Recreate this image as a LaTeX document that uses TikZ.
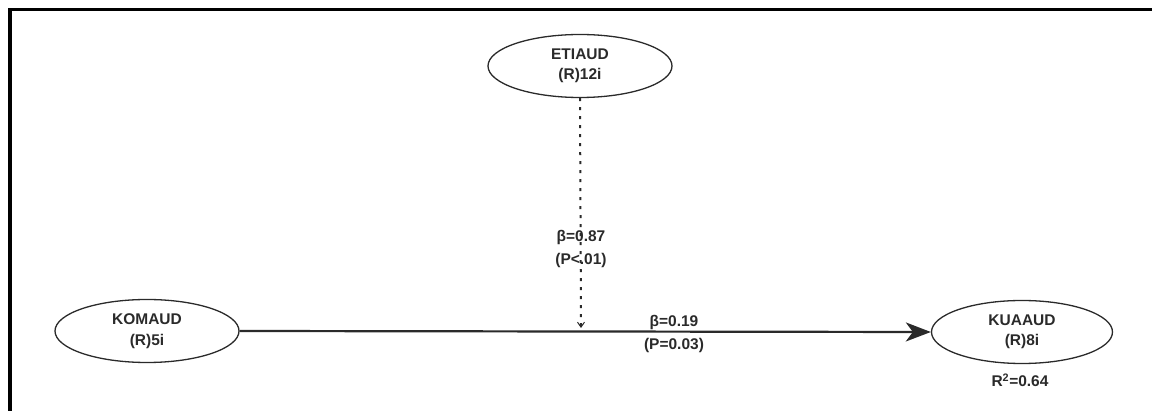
\documentclass[tikz,border=0pt]{standalone}
\usepackage{fontspec}
\setmainfont{Liberation Sans}
\usetikzlibrary{arrows.meta, shapes.geometric}
\definecolor{ink}{HTML}{2A2A2A}
\tikzset{
  construct/.style={draw=ink, line width=1.3pt, ellipse, minimum width=184pt, minimum height=63pt,
    inner sep=0pt, align=center, font=\fontsize{15.5}{20.5}\selectfont\bfseries, text=ink},
  pathlabel/.style={align=center, font=\fontsize{15.5}{22.5}\selectfont\bfseries, text=ink, inner sep=0pt},
  effect/.style={draw=ink, line width=2.2pt, -{Stealth[length=25pt, width=19pt, inset=7pt]}},
  moderation/.style={draw=ink, line width=2pt, dash pattern=on 3pt off 6pt,
    -{Straight Barb[length=5pt, width=7pt, line width=1pt]}},
}
\begin{document}
\begin{tikzpicture}[x=1pt, y=-1pt]
  \useasboundingbox (0,0) rectangle (1152,411);
  % frame
  \draw[line width=3.5pt, line cap=rect] (1152,9.75) -- (9.75,9.75) -- (9.75,411);

  % constructs
  \node[construct] (eti) at (580,66) {ETIAUD\\(R)12i};
  \node[construct] (kom) at (147,331) {KOMAUD\\(R)5i};
  \node[construct, minimum width=181pt] (kua) at (1022,332) {KUAAUD\\(R)8i};
  \node[pathlabel] (r2) at (1020,380) {R\textsuperscript{2}=0.64};

  % main effect
  \draw[effect] (kom.east) -- (kua.west);
  \coordinate (mod) at (581,328);
  % moderating effect
  \draw[moderation] (eti.south) -- (mod);

  % path coefficients
  \node[pathlabel] (b1) at (581,249) {β=0.87\\(P<.01)};
  \node[pathlabel] (b2) at (674,334) {β=0.19\\(P=0.03)};
\end{tikzpicture}
\end{document}
